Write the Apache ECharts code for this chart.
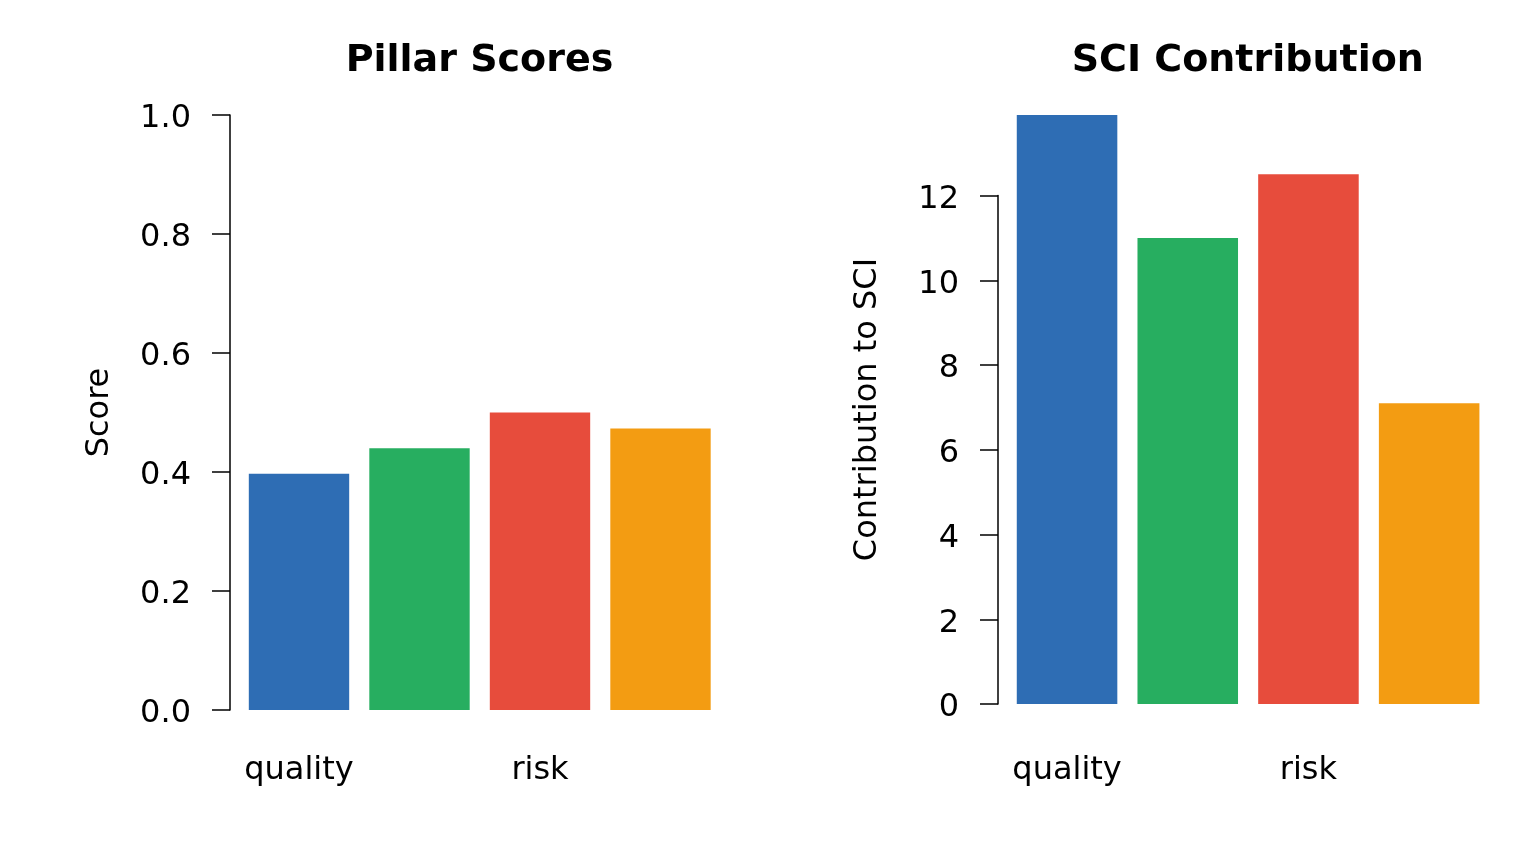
<!DOCTYPE html>
<html>
<head>
<meta charset="utf-8">
<script src="https://cdn.jsdelivr.net/npm/echarts@6/dist/echarts.min.js"></script>
<style>
html,body{margin:0;padding:0;background:#fff;}
#main{width:1536px;height:864px;}
</style>
</head>
<body>
<div id="main"></div>
<script>
const categories = ['quality', 'efficiency', 'risk', 'stability'];
const pillarScores = [0.397, 0.440, 0.500, 0.473];
const sciContribution = [13.9, 11.0, 12.5, 7.1];
const barColors = ['#2E6DB4', '#27AE60', '#E74C3C', '#F39C12'];
const scoreTicks = { min: 0, max: 1, interval: 0.2 };
const contribTicks = { min: 0, max: 12, interval: 2 };

const FONT = 'DejaVu Sans';
const FS = 32;
const chart = echarts.init(document.getElementById('main'));

// layout (pixels)
const leftGrid = { left: 238.75, right: 815.25, top: 115, bottom: 154 };
const rightGrid = { left: 1006.7, right: 46.5, top: 115, bottom: 160 };
const contribMax = Math.max(...sciContribution);
const plotH = 864 - rightGrid.top - rightGrid.bottom;
const rightAxisGrid = {
  left: rightGrid.left, right: rightGrid.right, bottom: rightGrid.bottom,
  top: 864 - rightGrid.bottom - plotH * contribTicks.max / contribMax
};

const tickRich = { t: { color: '#000', fontFamily: FONT, fontSize: FS, padding: [8, 0, 0, 0] } };

const yAxisStyle = {
  axisLine: { show: true, lineStyle: { color: '#000', width: 1.5 } },
  axisTick: { show: true, length: 18, lineStyle: { color: '#000', width: 1.5 } },
  axisLabel: { color: '#000', fontFamily: FONT, fontSize: FS, margin: 39, rich: tickRich,
    formatter: v => '{t|' + v + '}' },
  splitLine: { show: false },
  nameLocation: 'middle',
  nameTextStyle: { color: '#000', fontFamily: FONT, fontSize: FS },
  offset: 8.75
};

function catAxis(gridIndex, margin, showLabels) {
  return {
    type: 'category', gridIndex, data: categories,
    axisLine: { show: false }, axisTick: { show: false },
    axisLabel: { show: showLabels, interval: 1, color: '#000', fontFamily: FONT, fontSize: FS, margin },
    splitLine: { show: false }
  };
}

chart.setOption({
  animation: false,
  backgroundColor: '#fff',
  title: [
    { text: 'Pillar Scores', left: 474.5, top: 37, textAlign: 'center',
      textStyle: { fontFamily: FONT, fontWeight: 'bold', fontSize: 38, color: '#000' } },
    { text: 'SCI Contribution', left: 1242.75, top: 37, textAlign: 'center',
      textStyle: { fontFamily: FONT, fontWeight: 'bold', fontSize: 38, color: '#000' } }
  ],
  grid: [leftGrid, rightGrid, rightAxisGrid],
  xAxis: [catAxis(0, 45, true), catAxis(1, 51, true), catAxis(2, 10, false)],
  yAxis: [
    Object.assign({}, yAxisStyle, {
      type: 'value', gridIndex: 0, min: scoreTicks.min, max: scoreTicks.max, interval: scoreTicks.interval,
      name: 'Score', nameGap: 114,
      axisLabel: Object.assign({}, yAxisStyle.axisLabel, { formatter: v => '{t|' + v.toFixed(1) + '}' })
    }),
    {
      type: 'value', gridIndex: 1, min: 0, max: contribMax, offset: 8.7,
      axisLine: { show: false }, axisTick: { show: false }, axisLabel: { show: false }, splitLine: { show: false },
      name: 'Contribution to SCI', nameLocation: 'middle', nameGap: 114,
      nameTextStyle: { color: '#000', fontFamily: FONT, fontSize: FS }
    },
    Object.assign({}, yAxisStyle, {
      type: 'value', gridIndex: 2, min: contribTicks.min, max: contribTicks.max, interval: contribTicks.interval,
      offset: 8.7
    })
  ],
  series: [
    { type: 'bar', xAxisIndex: 0, yAxisIndex: 0, barWidth: '83.3%',
      data: pillarScores.map((v, i) => ({ value: v, itemStyle: { color: barColors[i] } })) },
    { type: 'bar', xAxisIndex: 1, yAxisIndex: 1, barWidth: '83.3%',
      data: sciContribution.map((v, i) => ({ value: v, itemStyle: { color: barColors[i] } })) }
  ]
});
</script>
</body>
</html>
